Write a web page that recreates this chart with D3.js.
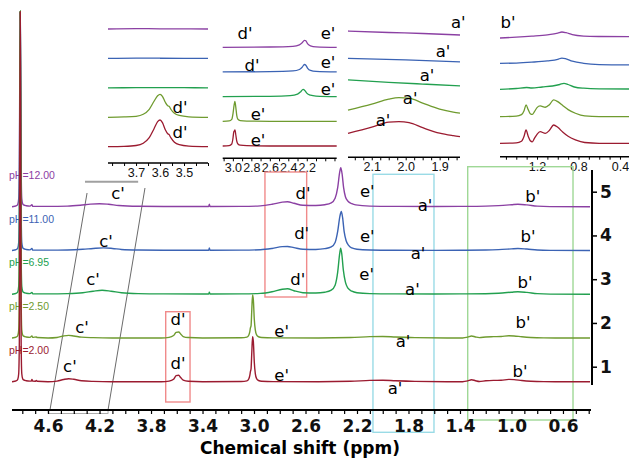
<!DOCTYPE html>
<html>
<head>
<meta charset="utf-8">
<script src="https://cdn.jsdelivr.net/npm/d3@7"></script>
<style>
body{margin:0;background:#fff;}
svg{display:block;}
</style>
</head>
<body>
<div class="canvas"></div>
<script>
//1H NMR of the samples at five pH values, stacked, with four zoomed insets on top

var W = 629, H = 460;

//spectra, bottom to top
var phLabels = ['pH=2.00','pH=2.50','pH=6.95','pH=11.00','pH=12.00'];
var rowLabels = ['1','2','3','4','5'];
var colors = ['#9b1b30','#6f9b2f','#22a04f','#3b63b4','#8b40a3'];

//main spectra: [ppm, intensity]
var specPH200 = [[4.88,0],[4.86,0.4],[4.845,1],[4.835,2.5],[4.828,8],[4.823,40],[4.82,200],[4.816,370],[4.812,200],[4.809,40],[4.804,8],[4.797,3],[4.79,1.8],[4.77,1],[4.74,0.6],[4.73,0.6],[4.725,2.2],[4.72,0.6],[4.70,0.5],[4.69,1.2],[4.685,0.4],[4.6,0],[4.53,0.6],[4.48,2.2],[4.44,3],[4.40,2.4],[4.34,0.9],[4.25,0.3],[4.1,0],[3.72,0],[3.66,0.6],[3.625,2.5],[3.605,6],[3.585,6.5],[3.57,4.2],[3.55,1.5],[3.51,0.4],[3.4,0],[3.1,0.2],[3.055,0.8],[3.04,3],[3.033,6],[3.028,10],[3.023,13],[3.017,30],[3.011,45],[3.005,40],[2.998,20],[2.99,8],[2.98,3],[2.965,1.2],[2.94,0.5],[2.85,0.1],[2.5,0],[2.25,0.4],[2.1,1.3],[2.0,1.5],[1.9,0.9],[1.75,0.3],[1.5,0],[1.38,0],[1.34,0.8],[1.31,2],[1.28,1],[1.25,0.2],[1.2,0.9],[1.14,1.3],[1.08,1.4],[1.02,2.3],[0.98,2.1],[0.92,1.2],[0.85,0.5],[0.75,0.1],[0.6,0],[0.39,0]];
var specPH250 = [[4.88,0],[4.86,0.4],[4.845,1],[4.835,2.5],[4.828,8],[4.823,40],[4.82,180],[4.816,327],[4.812,180],[4.809,40],[4.804,8],[4.797,3],[4.79,1.8],[4.77,1],[4.74,0.6],[4.725,2],[4.72,0.6],[4.69,1],[4.685,0.4],[4.6,0],[4.53,0.5],[4.48,2],[4.44,2.6],[4.40,2],[4.34,0.8],[4.25,0.3],[4.1,0],[3.72,0],[3.66,0.6],[3.625,2.4],[3.605,5.6],[3.585,6],[3.57,4],[3.55,1.4],[3.51,0.4],[3.4,0],[3.1,0.2],[3.055,0.8],[3.04,3],[3.033,6],[3.028,10],[3.023,12],[3.017,29],[3.011,43],[3.005,38],[2.998,19],[2.99,8],[2.98,3],[2.965,1.2],[2.94,0.5],[2.85,0.1],[2.5,0],[2.25,0.4],[2.1,1.3],[2.0,1.5],[1.9,0.9],[1.75,0.3],[1.5,0],[1.38,0],[1.34,0.8],[1.31,2],[1.28,1],[1.25,0.3],[1.2,1],[1.14,1.3],[1.08,1.5],[1.02,2.2],[0.98,2],[0.92,1.2],[0.85,0.5],[0.75,0.1],[0.6,0],[0.39,0]];
var specPH695 = [[4.88,0],[4.86,0.4],[4.845,1],[4.835,2.5],[4.828,8],[4.823,40],[4.82,160],[4.816,283],[4.812,160],[4.809,40],[4.804,8],[4.797,3],[4.79,1.8],[4.77,1],[4.74,0.6],[4.725,1.8],[4.72,0.5],[4.6,0.3],[4.45,0.6],[4.33,1.5],[4.25,3],[4.18,4],[4.11,3],[4.03,1.5],[3.9,0.6],[3.7,0.3],[3.4,0.2],[3.352,0.2],[3.347,2],[3.342,0.2],[3.1,0.3],[2.95,0.8],[2.86,2.5],[2.78,5],[2.74,5.5],[2.69,3.5],[2.62,1.5],[2.52,1.2],[2.45,2],[2.40,4],[2.37,9],[2.35,22],[2.335,40],[2.327,46],[2.318,40],[2.306,24],[2.29,12],[2.27,6],[2.24,3],[2.2,1.5],[2.1,0.6],[1.9,0.3],[1.6,0.2],[1.4,0.3],[1.2,0.5],[1.1,1],[1.0,2],[0.95,2.5],[0.88,1.8],[0.8,0.6],[0.7,0.1],[0.39,0]];
var specPH1100 = [[4.88,0],[4.86,0.4],[4.845,1],[4.835,2.5],[4.828,8],[4.823,40],[4.82,140],[4.816,239],[4.812,140],[4.809,40],[4.804,8],[4.797,3],[4.79,1.8],[4.77,1],[4.74,0.6],[4.725,2],[4.72,0.5],[4.6,0.3],[4.45,0.5],[4.33,1.2],[4.25,2],[4.17,2.6],[4.1,2],[4.03,1],[3.9,0.4],[3.7,0.2],[3.4,0.2],[3.352,0.2],[3.347,2.5],[3.342,0.2],[3.1,0.3],[2.95,0.7],[2.86,2],[2.78,3.8],[2.74,4],[2.69,2.8],[2.62,1.2],[2.52,1],[2.45,1.8],[2.40,3.5],[2.37,8],[2.35,19],[2.333,34],[2.322,39],[2.312,33],[2.3,19],[2.285,10],[2.265,5],[2.24,2.5],[2.2,1.2],[2.1,0.5],[1.9,0.2],[1.6,0.1],[1.4,0.2],[1.2,0.4],[1.1,0.8],[1.0,1.6],[0.95,2],[0.88,1.4],[0.8,0.5],[0.7,0.1],[0.39,0]];
var specPH1200 = [[4.88,0],[4.86,0.4],[4.845,1],[4.835,2.5],[4.828,8],[4.823,40],[4.82,120],[4.816,195],[4.812,120],[4.809,40],[4.804,8],[4.797,3],[4.79,1.8],[4.77,1],[4.74,0.6],[4.725,2],[4.72,0.5],[4.6,0.3],[4.45,0.6],[4.35,1.5],[4.27,2.6],[4.2,3],[4.13,2.4],[4.05,1.2],[3.9,0.4],[3.7,0.2],[3.4,0.2],[3.352,0.2],[3.347,2.5],[3.342,0.2],[3.1,0.3],[2.95,0.8],[2.86,2.4],[2.78,4.6],[2.74,5],[2.69,3.4],[2.62,1.4],[2.52,1.2],[2.45,2],[2.40,3.8],[2.37,8.5],[2.35,19],[2.335,34],[2.326,39],[2.316,33],[2.304,19],[2.29,10],[2.27,5.5],[2.24,3],[2.21,1.8],[2.1,0.6],[1.9,0.3],[1.6,0.2],[1.4,0.3],[1.2,0.6],[1.1,1.1],[1.0,2],[0.95,2.5],[0.88,1.8],[0.8,0.6],[0.7,0.1],[0.39,0]];
var mainSpectra = [specPH200, specPH250, specPH695, specPH1100, specPH1200];

//peak labels on the main plot: [text, ppm, height above baseline] per spectrum
var mainPeakLabels = [
	[["c'",4.43,15],["d'",3.59,18.7],["e'",2.785,6.7],["a'",1.905,-6.3],["b'",0.934,10]],
	[["c'",4.336,10.7],["d'",3.59,18.7],["e'",2.785,7],["a'",1.843,-3],["b'",0.91,16]],
	[["c'",4.25,14.7],["d'",2.66,14.7],["e'",2.125,19.7],["a'",1.77,4.7],["b'",0.895,11.7]],
	[["c'",4.15,9],["d'",2.63,17.7],["e'",2.12,14],["a'",1.726,-2.3],["b'",0.872,14]],
	[["c'",4.056,13.7],["d'",2.62,13.7],["e'",2.12,15],["a'",1.672,1.7],["b'",0.835,10]]
];

//main axis
var mainTickLabels = [4.6,4.2,3.8,3.4,3.0,2.6,2.2,1.8,1.4,1.0,0.6];
var mainDomain = [4.88,0.39];

//highlighted ppm ranges on the main plot
var boxRanges = [[3.686,3.497],[2.915,2.591],[2.076,1.602],[1.34,0.522]];
var boxColors = ['#f08a8a','#f08a8a','#9adbe6','#9fd896'];

//inset 1: d' region
var in1PH200 = [[3.817,0],[3.75,0.3],[3.70,1.2],[3.67,3.5],[3.645,9],[3.625,18],[3.61,25],[3.6,26.7],[3.59,24],[3.578,17],[3.568,13],[3.562,12],[3.555,9],[3.54,4.5],[3.52,2],[3.48,0.6],[3.4,0]];
var in1PH250 = [[3.817,0],[3.75,0.3],[3.70,1],[3.67,3],[3.645,8],[3.625,16],[3.61,21.5],[3.6,23],[3.59,21],[3.578,15],[3.568,11.5],[3.562,11],[3.555,8],[3.54,4],[3.52,1.8],[3.48,0.5],[3.4,0]];
var in1PH695 = [[3.817,0],[3.7,0.2],[3.6,0.3],[3.5,0.2],[3.4,0]];
var in1PH1100 = [[3.817,0],[3.7,0.3],[3.6,0.2],[3.5,0.1],[3.4,0]];
var in1PH1200 = [[3.817,0],[3.7,0.4],[3.6,0.2],[3.5,0.2],[3.4,0]];
var in1Ticks = [3.7,3.6,3.5];

//inset 2: d'/e' region
var in2PH200 = [[3.11,0],[3.04,0.4],[3.012,2],[3.0,7],[2.99,14],[2.984,15],[2.977,16],[2.968,11],[2.958,5],[2.945,2],[2.92,0.8],[2.85,0.3],[2.6,0],[1.876,0]];
var in2PH250 = [[3.11,0],[3.04,0.4],[3.012,2],[2.998,8],[2.987,16],[2.978,20],[2.968,14],[2.958,6],[2.945,2],[2.92,0.8],[2.85,0.3],[2.6,0],[1.876,0]];
var in2PH695 = [[3.11,0],[2.6,0.3],[2.38,1],[2.30,2.5],[2.265,5],[2.24,7.3],[2.22,6],[2.2,3.5],[2.16,1.5],[2.1,0.6],[1.876,0]];
var in2PH1100 = [[3.11,0],[2.6,0.3],[2.35,1],[2.28,2.5],[2.25,4.8],[2.225,7.5],[2.21,6.8],[2.19,3.6],[2.16,1.5],[2.1,0.5],[1.876,0]];
var in2PH1200 = [[3.11,0],[2.6,0.3],[2.35,1],[2.28,2.5],[2.25,4.5],[2.225,7],[2.21,6.5],[2.19,3.5],[2.16,1.5],[2.1,0.5],[1.876,0]];
var in2Ticks = [3.0,2.8,2.6,2.4,2.2];

//inset 3: a' region
var in3PH200 = [[2.17,3.4],[2.1,9.5],[2.05,14.5],[2.02,15],[1.99,14],[1.95,9],[1.9,3.5],[1.86,1],[1.84,0]];
var in3PH250 = [[2.17,1.2],[2.1,7.2],[2.05,12.2],[2.02,13.7],[1.99,13.2],[1.95,8.2],[1.9,2.2],[1.86,-0.8],[1.84,-1.8]];
var in3PH695 = [[2.17,6],[2.05,3.5],[1.95,1.8],[1.84,0]];
var in3PH1100 = [[2.17,2],[2.0,0.5],[1.84,-1.5]];
var in3PH1200 = [[2.17,4],[2.05,2.5],[1.95,1.5],[1.84,0]];
var in3Ticks = [2.1,2.0,1.9];

//inset 4: b' region
var in4PH200 = [[1.557,0],[1.4,0.4],[1.35,2],[1.325,7],[1.306,13.3],[1.285,7],[1.265,2.5],[1.245,1.5],[1.225,5],[1.2,9],[1.17,11.6],[1.12,10],[1.08,13],[1.04,18.3],[1.0,16],[0.95,11],[0.9,7],[0.83,3.5],[0.74,0.8],[0.6,0],[0.313,0]];
var in4PH250 = [[1.557,0],[1.4,0.5],[1.35,2],[1.325,6],[1.306,11.7],[1.285,7],[1.265,3],[1.245,2.2],[1.225,5],[1.2,9],[1.17,10.7],[1.12,9.4],[1.08,12],[1.04,16.7],[1.0,15],[0.95,11],[0.9,7],[0.83,3.4],[0.74,0.7],[0.6,0],[0.313,0]];
var in4PH695 = [[1.557,0.7],[1.4,1.5],[1.3,2.5],[1.25,2],[1.15,3],[1.05,4],[0.98,5.5],[0.94,6.7],[0.9,5.5],[0.84,3],[0.75,1.8],[0.6,1.2],[0.313,1]];
var in4PH1100 = [[1.557,0],[1.4,0.3],[1.25,1.2],[1.1,2.5],[1.0,4],[0.96,5.3],[0.92,4.5],[0.86,2.2],[0.75,0],[0.6,-1.2],[0.313,-1.6]];
var in4PH1200 = [[1.557,-1.3],[1.4,-0.5],[1.25,0.5],[1.1,1.8],[1.0,3.5],[0.96,4.7],[0.92,4],[0.86,2],[0.75,0.6],[0.6,0.2],[0.313,0]];
var in4Ticks = [1.2,0.8,0.4];

var insetSets = [
	{domain:[3.817,3.4], spectra:[in1PH200,in1PH250,in1PH695,in1PH1100,in1PH1200], ticks:in1Ticks, minor:0.05, fmt:'.1f',
	 labels:[[1,"d'",3.517,10.3],[0,"d'",3.517,14.7]]},
	{domain:[3.11,1.876], spectra:[in2PH200,in2PH250,in2PH695,in2PH1100,in2PH1200], ticks:in2Ticks, minor:0.1, fmt:'.1f',
	 labels:[[4,"d'",2.869,14.3],[4,"e'",1.97,14.3],[3,"d'",2.793,7],[3,"e'",1.97,10],[2,"e'",1.97,7.3],[1,"e'",2.728,6.7],[0,"e'",2.728,6]]},
	{domain:[2.17,1.84], spectra:[in3PH200,in3PH250,in3PH695,in3PH1100,in3PH1200], ticks:in3Ticks, minor:0.025, fmt:'.1f',
	 labels:[[4,"a'",1.845,13],[3,"a'",1.89,9.5],[2,"a'",1.937,10.9],[1,"a'",1.987,13.2],[0,"a'",2.067,16.7]]},
	{domain:[1.557,0.313], spectra:[in4PH200,in4PH250,in4PH695,in4PH1100,in4PH1200], ticks:in4Ticks, minor:0.1, fmt:'.1f',
	 labels:[[4,"b'",1.48,14.7]]}
];

//inset boxes on the page
var insetLayout = [
	{x0:108, x1:208, y0:146.7, y1:29, axisY:163},
	{x0:222.7, x1:336.7, y0:146, y1:47.3, axisY:158.3},
	{x0:348, x1:460, y0:136.7, y1:35, axisY:157.3},
	{x0:500, x1:629, y0:143.3, y1:36.7, axisY:156.7}
];

var svg = d3.select('.canvas')
	.append('svg')
	.attr('width',W)
	.attr('height',H);

var labelFont = 'DejaVu Sans, Verdana, sans-serif';
var smallFont = 'Liberation Sans, Arial, sans-serif';

//---- insets
insetSets.forEach(function(set, k){
	var L = insetLayout[k];
	var ix = d3.scaleLinear().domain(set.domain).range([L.x0, L.x1]);
	var row = d3.scalePoint().domain(d3.range(5)).range([L.y0, L.y1]);
	var g = svg.append('g');

	set.spectra.forEach(function(s, i){
		var line = d3.line()
			.x(function(d){return ix(d[0]);})
			.y(function(d){return row(i) - d[1];})
			.curve(d3.curveMonotoneX);
		g.append('path')
			.attr('d', line(s))
			.style('fill','none')
			.style('stroke',colors[i])
			.style('stroke-width',1.3);
	});

	set.labels.forEach(function(lb){
		g.append('text')
			.attr('x', ix(lb[2]))
			.attr('y', row(lb[0]) - lb[3])
			.attr('dy','0.35em')
			.attr('text-anchor','middle')
			.style('font-family',labelFont)
			.style('font-size','16.5px')
			.text(lb[1]);
	});

	var lo = Math.min(set.domain[0], set.domain[1]), hi = Math.max(set.domain[0], set.domain[1]);
	var minorVals = d3.range(Math.ceil(lo/set.minor - 1e-6), Math.floor(hi/set.minor + 1e-6)+1).map(function(v){return v*set.minor;});
	var ax = g.append('g')
		.attr('transform','translate(0,'+L.axisY+')')
		.call(d3.axisBottom(ix).tickValues(minorVals).tickSize(3).tickFormat(''));
	ax.select('.domain').attr('d','M'+L.x0+',0H'+L.x1).style('stroke-width',1.5);
	ax.selectAll('.tick line').style('stroke-width',1);

	g.append('g')
		.attr('transform','translate(0,'+L.axisY+')')
		.call(d3.axisBottom(ix).tickValues(set.ticks).tickSize(0).tickPadding(5).tickFormat(d3.format(set.fmt)))
		.call(function(a){a.select('.domain').remove();})
		.selectAll('text')
		.style('font-family',smallFont)
		.style('font-size','12.5px')
		.style('fill','#111');
});

//---- main plot
var x = d3.scaleLinear().domain(mainDomain).range([12, 590]);
var base = d3.scalePoint().domain(d3.range(5)).range([381.7, 206.7]);
var axisY = 410;

//highlight boxes
var boxY = [[311.7,402],[172,297],[174.3,432.3],[166.7,420]];
boxRanges.forEach(function(r, i){
	svg.append('rect')
		.attr('x', x(r[0]))
		.attr('y', boxY[i][0])
		.attr('width', x(r[1]) - x(r[0]))
		.attr('height', boxY[i][1] - boxY[i][0])
		.style('fill','none')
		.style('stroke', boxColors[i])
		.style('stroke-width',1.4);
});

//zoom guide for c'
svg.append('line')
	.attr('x1',x(4.313)).attr('x2',x(3.9))
	.attr('y1',181.7).attr('y2',181.7)
	.style('stroke','#a0a0a0').style('stroke-width',2);
[[4.297,4.585,193],[3.847,4.134,188]].forEach(function(l){
	svg.append('line')
		.attr('x1',x(l[0])).attr('y1',l[2])
		.attr('x2',x(l[1])).attr('y2',axisY)
		.style('stroke','#444').style('stroke-width',0.8);
});
svg.append('rect')
	.attr('x',x(4.6)).attr('y',axisY)
	.attr('width',x(4.134)-x(4.6)).attr('height',3.5)
	.style('fill','none').style('stroke','#999').style('stroke-width',0.8);

//pH labels (under the spectra)
phLabels.forEach(function(t, i){
	svg.append('text')
		.attr('x',9)
		.attr('y',base(i) - 31.5)
		.attr('dy','0.35em')
		.style('font-family',smallFont)
		.style('font-size','10.5px')
		.style('fill',colors[i])
		.text(t);
});

var mainLine = function(i){
	return d3.line()
		.x(function(d){return x(d[0]);})
		.y(function(d){return base(i) - d[1];})
		.curve(d3.curveMonotoneX);
};

//draw top spectrum first so the pH 2.00 water peak stays on top
[4,3,2,1,0].forEach(function(i){
	svg.append('path')
		.attr('d', mainLine(i)(mainSpectra[i]))
		.style('fill','none')
		.style('stroke',colors[i])
		.style('stroke-width', 1.4);
});

mainPeakLabels.forEach(function(row, i){
	row.forEach(function(lb){
		svg.append('text')
			.attr('x', x(lb[1]))
			.attr('y', base(i) - lb[2])
			.attr('dy','0.35em')
			.attr('text-anchor','middle')
			.style('font-family',labelFont)
			.style('font-size','16.5px')
			.text(lb[0]);
	});
});

//x axis
var minorMain = d3.range(4, 49).map(function(v){return v/10;});
var xAxisMinor = svg.append('g')
	.attr('transform','translate(0,'+axisY+')')
	.call(d3.axisBottom(x).tickValues(minorMain).tickSize(4).tickFormat(''));
xAxisMinor.select('.domain').attr('d','M12,0H591').style('stroke-width',2);
xAxisMinor.selectAll('.tick line').style('stroke-width',1.2);

svg.append('g')
	.attr('transform','translate(0,'+axisY+')')
	.call(d3.axisBottom(x).tickValues(mainTickLabels).tickSize(0).tickPadding(10).tickFormat(d3.format('.1f')))
	.call(function(a){a.select('.domain').remove();})
	.selectAll('text')
	.style('font-family',labelFont)
	.style('font-size','17px')
	.style('font-weight','bold')
	.style('fill','#111');

svg.append('text')
	.attr('x',300)
	.attr('y',448)
	.attr('dy','0.35em')
	.attr('text-anchor','middle')
	.style('font-family',labelFont)
	.style('font-size','17px')
	.style('font-weight','bold')
	.text('Chemical shift (ppm)');

//right axis with spectrum numbers
var rowY = d3.scalePoint().domain(rowLabels).range([base(0) - 15, base(4) - 15]);
var yAxis = svg.append('g')
	.attr('transform','translate(592,0)')
	.call(d3.axisRight(rowY).tickSize(5).tickPadding(3));
yAxis.select('.domain').attr('d','M0,170V385').style('stroke-width',2);
yAxis.selectAll('.tick line').style('stroke-width',1.5);
yAxis.selectAll('text')
	.style('font-family',labelFont)
	.style('font-size','17px')
	.style('font-weight','bold')
	.style('fill','#111');
</script>
</body>
</html>
